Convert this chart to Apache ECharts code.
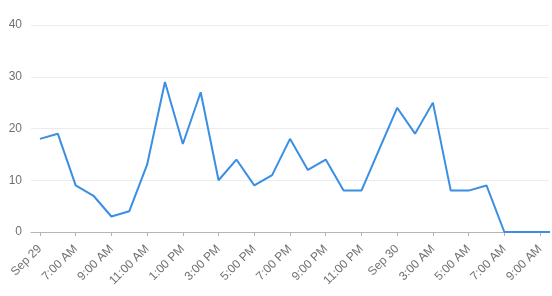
<!DOCTYPE html>
<html>
<head>
<meta charset="utf-8">
<script src="https://cdn.jsdelivr.net/npm/echarts@6/dist/echarts.min.js"></script>
<style>
html,body{margin:0;padding:0;background:#fff;}
#chart{width:552px;height:296px;}
</style>
</head>
<body>
<div id="chart"></div>
<script>
// hourly categories starting 5:00 AM Sep 29 (labels shown every other hour)
var categories = [
  "Sep 29","6:00 AM","7:00 AM","8:00 AM","9:00 AM","10:00 AM","11:00 AM","12:00 PM",
  "1:00 PM","2:00 PM","3:00 PM","4:00 PM","5:00 PM","6:00 PM","7:00 PM","8:00 PM",
  "9:00 PM","10:00 PM","11:00 PM","12:00 AM","Sep 30","2:00 AM","3:00 AM","4:00 AM",
  "5:00 AM","6:00 AM","7:00 AM","8:00 AM","9:00 AM","10:00 AM"
];
var values = [
  18,19,9,7,3,4,13,29,17,27,10,14,9,11,18,12,14,8,8,16,24,19,25,8,8,9,0,0,0,0
];
var yTicks = [0,10,20,30,40];

var chart = echarts.init(document.getElementById('chart'), null, {renderer:'canvas'});
chart.setOption({
  animation:false,
  grid:{left:31,right:3,top:25,bottom:64,containLabel:false},
  xAxis:{
    type:'category',
    data:categories,
    max:28,
    boundaryGap:true,
    axisLine:{lineStyle:{color:'#b5b5b5',width:1}},
    axisTick:{show:true,interval:1,alignWithLabel:true,length:4,lineStyle:{color:'#b5b5b5'}},
    axisLabel:{interval:1,rotate:45,margin:15,color:'#707070',fontSize:12,fontFamily:'Liberation Sans, Arial, sans-serif'},
    splitLine:{show:false}
  },
  yAxis:{
    type:'value',
    min:yTicks[0],
    max:yTicks[yTicks.length-1],
    interval:10,
    axisLine:{show:false},
    axisTick:{show:false},
    axisLabel:{margin:9,color:'#707070',fontSize:12,fontFamily:'Liberation Sans, Arial, sans-serif'},
    splitLine:{lineStyle:{color:'#ececec',width:1}}
  },
  series:[{
    type:'line',
    data:values,
    showSymbol:false,
    symbol:'none',
    clip:true,
    lineStyle:{color:'#3a8ee3',width:2},
    itemStyle:{color:'#3a8ee3'}
  }]
});
</script>
</body>
</html>
